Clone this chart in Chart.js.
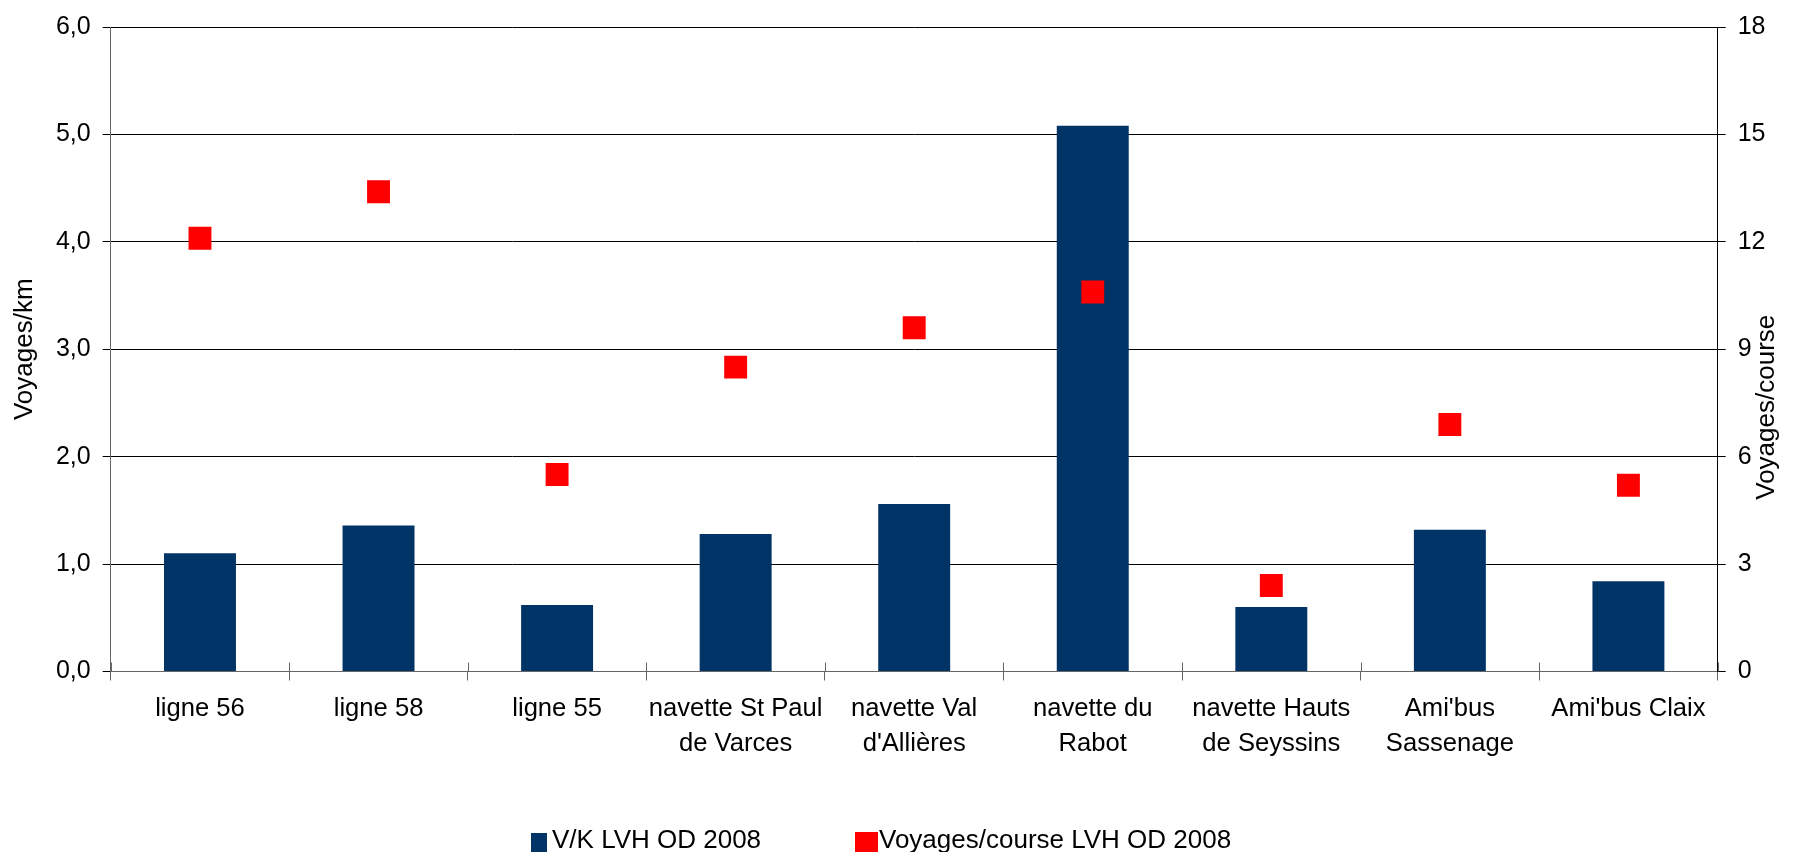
<!DOCTYPE html>
<html>
<head>
<meta charset="utf-8">
<script src="https://cdn.jsdelivr.net/npm/chart.js@4/dist/chart.umd.min.js"></script>
<style>
  html, body { margin: 0; padding: 0; background: #fff; }
  #wrap { position: relative; width: 1813px; height: 852px; }
</style>
</head>
<body>
<div id="wrap"><canvas id="c"></canvas></div>
<script>
// Lines of the network (multi-line labels as arrays)
const categories = [
  'ligne 56',
  'ligne 58',
  'ligne 55',
  ['navette St Paul', 'de Varces'],
  ['navette Val', "d'Allières"],
  ['navette du', 'Rabot'],
  ['navette Hauts', 'de Seyssins'],
  ["Ami'bus", 'Sassenage'],
  "Ami'bus Claix"
];

// Voyages per km (left axis)
const voyagesKm = [1.10, 1.36, 0.62, 1.28, 1.56, 5.08, 0.60, 1.32, 0.84];

// Voyages per course (right axis)
const voyagesCourse = [12.1, 13.4, 5.5, 8.5, 9.6, 10.6, 2.4, 6.9, 5.2];

const seriesNames = ['V/K LVH OD 2008', 'Voyages/course LVH OD 2008'];
const axisTitles = ['Voyages/km', 'Voyages/course'];

const leftTicks = [0, 1, 2, 3, 4, 5, 6];
const rightTicks = [0, 3, 6, 9, 12, 15, 18];

const FONT = '"Liberation Sans", Arial, sans-serif';
const BLUE = '#003366';
const RED = '#ff0000';

// Axis titles, both reading bottom to top
const axisTitlePlugin = {
  id: 'axisTitles',
  afterDraw(chart) {
    const { ctx, chartArea } = chart;
    const midY = (chartArea.top + chartArea.bottom) / 2;
    ctx.save();
    ctx.font = '26px ' + FONT;
    ctx.fillStyle = '#000';
    ctx.textAlign = 'center';
    ctx.textBaseline = 'middle';
    const yL = chart.scales.y, yR = chart.scales.y1;
    const items = [
      [yL.left + 25, midY, axisTitles[0]],
      [yR.right - 46, midY + 58, axisTitles[1]]
    ];
    items.forEach(([x, y, t]) => {
      ctx.save();
      ctx.translate(x, y);
      ctx.rotate(-Math.PI / 2);
      ctx.fillText(t, 0, 0);
      ctx.restore();
    });
    ctx.restore();
  }
};

// Inner half of the category tick marks on the x axis
const innerTickPlugin = {
  id: 'innerTicks',
  afterDatasetsDraw(chart) {
    const { ctx } = chart;
    const xs = chart.scales.x;
    const step = xs.width / categories.length;
    ctx.save();
    ctx.strokeStyle = '#666';
    ctx.lineWidth = 1;
    for (let i = 0; i <= categories.length; i++) {
      const px = Math.round(xs.left + i * step) + 0.5;
      ctx.beginPath();
      ctx.moveTo(px, xs.top - 9);
      ctx.lineTo(px, xs.top);
      ctx.stroke();
    }
    ctx.restore();
  }
};

// Legend below the chart
const legendPlugin = {
  id: 'bottomLegend',
  afterDraw(chart) {
    const { ctx } = chart;
    const bar = chart.data.datasets.find(d => d.type === 'bar');
    const pts = chart.data.datasets.find(d => d.type === 'line');
    ctx.save();
    ctx.font = '26px ' + FONT;
    ctx.textBaseline = 'alphabetic';
    ctx.textAlign = 'left';
    const baseline = 848;
    let x = 531;
    ctx.fillStyle = bar.backgroundColor;
    ctx.fillRect(x, 833, 16, 22);
    ctx.fillStyle = '#000';
    ctx.fillText(bar.label, x + 21, baseline);
    x = 855;
    ctx.fillStyle = pts.backgroundColor;
    ctx.fillRect(x, 832, 23, 23);
    ctx.fillStyle = '#000';
    ctx.fillText(pts.label, x + 24, baseline);
    ctx.restore();
  }
};

new Chart(document.getElementById('c'), {
  data: {
    labels: categories,
    datasets: [
      {
        type: 'bar',
        label: seriesNames[0],
        data: voyagesKm,
        yAxisID: 'y',
        backgroundColor: BLUE,
        borderWidth: 0,
        categoryPercentage: 1,
        barPercentage: 0.403,
        order: 1
      },
      {
        type: 'line',
        label: seriesNames[1],
        data: voyagesCourse,
        yAxisID: 'y1',
        showLine: false,
        pointStyle: 'rect',
        pointRadius: 16.2,
        pointBorderWidth: 0,
        backgroundColor: RED,
        borderColor: RED,
        order: 0
      }
    ]
  },
  options: {
    responsive: true,
    maintainAspectRatio: false,
    animation: false,
    events: [],
    layout: { padding: { top: 23.5, left: 0, right: 0, bottom: 0 } },
    plugins: {
      legend: { display: false },
      tooltip: { enabled: false }
    },
    scales: {
      x: {
        offset: true,
        grid: {
          offset: true,
          drawOnChartArea: false,
          drawTicks: true,
          tickLength: 9,
          color: '#666'
        },
        border: { display: true, color: '#666', width: 1 },
        ticks: {
          color: '#000',
          font: { family: FONT, size: 25.6, lineHeight: 1.36 },
          padding: 11,
          maxRotation: 0,
          autoSkip: false
        },
        afterFit(scale) { scale.height = 180.5; }
      },
      y: {
        position: 'left',
        min: leftTicks[0],
        max: leftTicks[leftTicks.length - 1],
        afterBuildTicks(scale) { scale.ticks = leftTicks.map(v => ({ value: v })); },
        grid: { color: '#000', lineWidth: 1, tickLength: 8 },
        border: { display: true, color: '#666', width: 1 },
        ticks: {
          color: '#000',
          font: { family: FONT, size: 25 },
          padding: 12,
          callback: v => v.toFixed(1).replace('.', ',')
        },
        afterFit(scale) { scale.width = 110.7; }
      },
      y1: {
        position: 'right',
        min: rightTicks[0],
        max: rightTicks[rightTicks.length - 1],
        afterBuildTicks(scale) { scale.ticks = rightTicks.map(v => ({ value: v })); },
        grid: { drawOnChartArea: false, color: '#000', tickLength: 8 },
        border: { display: true, color: '#000', width: 1 },
        ticks: {
          color: '#000',
          font: { family: FONT, size: 25 },
          padding: 12,
          callback: v => String(v)
        },
        afterFit(scale) { scale.width = 95.3; }
      }
    }
  },
  plugins: [innerTickPlugin, axisTitlePlugin, legendPlugin]
});
</script>
</body>
</html>
